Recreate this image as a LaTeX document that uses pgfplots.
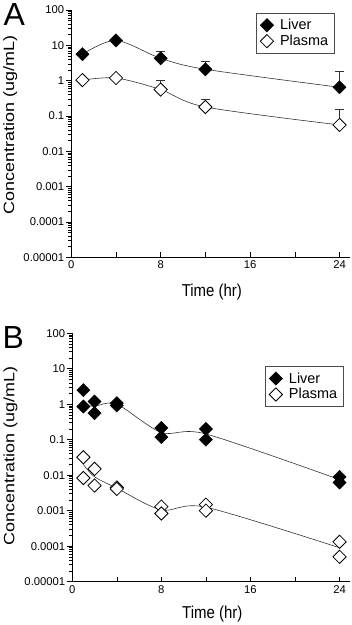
\documentclass[border=0pt]{standalone}
\usepackage{pgfplots}
\pgfplotsset{compat=1.18}
\usepackage{fontspec}
\setmainfont{Liberation Sans}
\pgfplotsset{
  fitline/.style={gray!40!black, line width=0.6pt, smooth, forget plot, no marks},
  livermark/.style={only marks, mark=square*, mark size=4.7pt, mark options={rotate=45, fill=black, draw=black}},
  plasmamark/.style={only marks, mark=square*, mark size=4.7pt, mark options={rotate=45, fill=white, draw=black, line width=0.8pt}},
}

\begin{document}
\begin{tikzpicture}[x=1pt,y=1pt]
\path (0,0) rectangle (350,-625);

% ---------- Panel A ----------
\begin{axis}[scale only axis, at={(69pt,-258pt)}, anchor=south west, width=279pt, height=248pt,
    xmin=0, xmax=24.9, ymode=log, ymin=1e-5, ymax=100,
    axis x line*=bottom, axis y line*=left,
    xtick={0,4,...,24}, xticklabels={0,,8,,16,,24},
    ytick={1e-5,1e-4,1e-3,1e-2,1e-1,1,10,100},
    yticklabels={0.00001,0.0001,0.001,0.01,0.1,1,10,100},
    minor ytick={2e-5,3e-5,4e-5,5e-5,6e-5,7e-5,8e-5,9e-5,2e-4,3e-4,4e-4,5e-4,6e-4,7e-4,8e-4,9e-4,2e-3,3e-3,4e-3,5e-3,6e-3,7e-3,8e-3,9e-3,0.02,0.03,0.04,0.05,0.06,0.07,0.08,0.09,0.2,0.3,0.4,0.5,0.6,0.7,0.8,0.9,2,3,4,5,6,7,8,9,20,30,40,50,60,70,80,90},
    tick align=inside,
    major tick length=5pt, minor tick length=3pt,
    every major y tick/.append style={xshift=-5pt},
    every minor y tick/.append style={xshift=-3pt},
    tick style={black, line width=0.6pt},
    axis line style={line width=0.8pt, -},
    ticklabel style={font=\fontsize{11.3}{13}\selectfont},
    yticklabel style={xshift=-3.5pt},
    label style={font=\fontsize{15}{17}\selectfont},
    legend cell align=left,
    legend image code/.code={\path (0cm,0cm) (0.6cm,0cm); \draw[#1] plot coordinates {(0.22cm,0cm)};},
    legend style={draw=gray!60!black, line width=0.6pt, font=\fontsize{14.5}{16}\selectfont, inner xsep=4pt, inner ysep=4pt, row sep=0pt},
    clip=false,
  xlabel={\scalebox{1}[1.15]{Time (hr)}}, ylabel={\scalebox{1.2}[1]{Concentration (ug/mL)}},
  xlabel style={at={(axis description cs:0.505,-0.141)}, anchor=center},
  ylabel style={at={(axis description cs:-0.219,0.536)}, anchor=center},
  legend style={at={(rel axis cs:0.946,0.988)}, anchor=north east}]
\addplot[fitline] coordinates {(1,5.6)(4,13.8)(8,4.3)(12,2.1)(24,0.65)};
\addplot[fitline] coordinates {(1,1.04)(4,1.19)(8,0.56)(12,0.18)(24,0.056)};
\addplot[livermark, error bars/.cd, y dir=plus, y explicit, error bar style={line width=0.6pt, gray!40!black}] coordinates {(1,5.6)+-(0,0)(4,13.8)+-(0,0)(8,4.3)+-(0,2.6)(12,2.1)+-(0,1.5)(24,0.65)+-(0,1.15)};
\addlegendentry{Liver}
\addplot[plasmamark, error bars/.cd, y dir=plus, y explicit, error bar style={line width=0.6pt, gray!40!black}] coordinates {(1,1.04)+-(0,0)(4,1.19)+-(0,0)(8,0.56)+-(0,0.48)(12,0.18)+-(0,0.11)(24,0.056)+-(0,0.099)};
\addlegendentry{Plasma}
\end{axis}
\node[anchor=north west, inner sep=0pt, font=\fontsize{32}{32}\selectfont] at (1,-3) {A};

% ---------- Panel B ----------
\begin{axis}[scale only axis, at={(70pt,-583pt)}, anchor=south west, width=278pt, height=249pt,
    xmin=0, xmax=24.9, ymode=log, ymin=1e-5, ymax=100,
    axis x line*=bottom, axis y line*=left,
    xtick={0,4,...,24}, xticklabels={0,,8,,16,,24},
    ytick={1e-5,1e-4,1e-3,1e-2,1e-1,1,10,100},
    yticklabels={0.00001,0.0001,0.001,0.01,0.1,1,10,100},
    minor ytick={2e-5,3e-5,4e-5,5e-5,6e-5,7e-5,8e-5,9e-5,2e-4,3e-4,4e-4,5e-4,6e-4,7e-4,8e-4,9e-4,2e-3,3e-3,4e-3,5e-3,6e-3,7e-3,8e-3,9e-3,0.02,0.03,0.04,0.05,0.06,0.07,0.08,0.09,0.2,0.3,0.4,0.5,0.6,0.7,0.8,0.9,2,3,4,5,6,7,8,9,20,30,40,50,60,70,80,90},
    tick align=inside,
    major tick length=5pt, minor tick length=3pt,
    every major y tick/.append style={xshift=-5pt},
    every minor y tick/.append style={xshift=-3pt},
    tick style={black, line width=0.6pt},
    axis line style={line width=0.8pt, -},
    ticklabel style={font=\fontsize{11.3}{13}\selectfont},
    yticklabel style={xshift=-3.5pt},
    label style={font=\fontsize{15}{17}\selectfont},
    legend cell align=left,
    legend image code/.code={\path (0cm,0cm) (0.6cm,0cm); \draw[#1] plot coordinates {(0.22cm,0cm)};},
    legend style={draw=gray!60!black, line width=0.6pt, font=\fontsize{14.5}{16}\selectfont, inner xsep=4pt, inner ysep=4pt, row sep=0pt},
    clip=false,
  xlabel={\scalebox{1}[1.15]{Time (hr)}}, ylabel={\scalebox{1.2}[1]{Concentration (ug/mL)}},
  xlabel style={at={(axis description cs:0.505,-0.129)}, anchor=center},
  ylabel style={at={(axis description cs:-0.223,0.506)}, anchor=center},
  legend style={at={(rel axis cs:0.978,0.867)}, anchor=north east}]
\addplot[fitline] coordinates {(1,0.95)(2,0.88)(4,1.0)(8,0.16)(12,0.145)(24,0.0075)};
\addplot[fitline] coordinates {(1,0.02)(2,0.009)(4,0.0043)(8,0.00105)(12,0.00125)(24,0.00009)};
\addplot[livermark] coordinates {(1,2.5)(1,0.86)(2,1.19)(2,0.56)(4,1.07)(4,0.92)(8,0.216)(8,0.118)(12,0.2)(12,0.1)(24,0.0089)(24,0.0062)};
\addlegendentry{Liver}
\addplot[plasmamark] coordinates {(1,0.032)(1,0.0083)(2,0.015)(2,0.0051)(4,0.0045)(4,0.0041)(8,0.0013)(8,0.00083)(12,0.00148)(12,0.001)(24,0.000132)(24,0.00005)};
\addlegendentry{Plasma}
\end{axis}
\node[anchor=north west, inner sep=0pt, font=\fontsize{32}{32}\selectfont] at (0,-327) {B};
\end{tikzpicture}
\end{document}
